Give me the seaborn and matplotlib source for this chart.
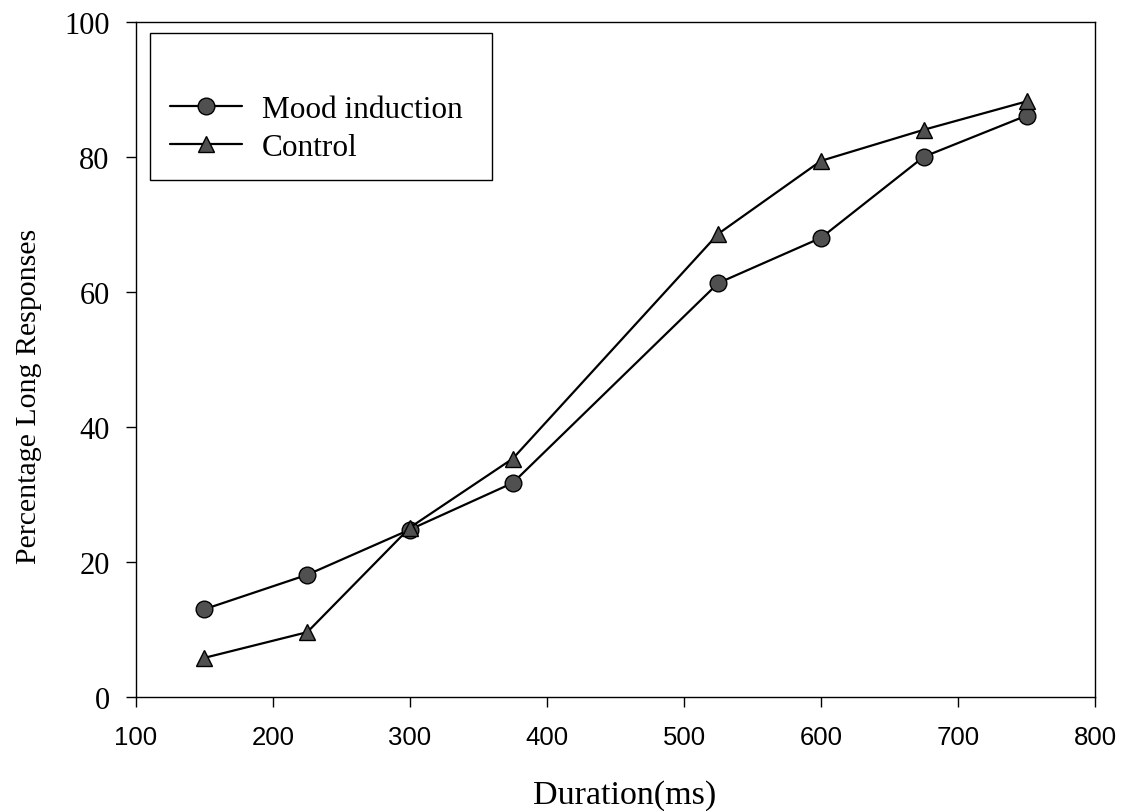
import pandas as pd
import matplotlib.pyplot as plt
import matplotlib.patches as mpatches
import seaborn as sns

# valores
duracion = [150, 225, 300, 375, 525, 600, 675, 750]
mood_induction = [13.0, 18.1, 24.8, 31.7, 61.3, 68.0, 80.0, 86.1]
control = [5.8, 9.6, 25.1, 35.3, 68.6, 79.4, 84.0, 88.2]
x_ticks = [100, 200, 300, 400, 500, 600, 700, 800]
y_ticks = [0, 20, 40, 60, 80, 100]

df_mood = pd.DataFrame({'Duration': duracion, 'Pct': mood_induction})
df_ctrl = pd.DataFrame({'Duration': duracion, 'Pct': control})

sns.set_style('ticks')
plt.rcParams['font.family'] = ['Liberation Serif', 'DejaVu Serif']

fig = plt.figure(figsize=(11.23, 8.12), dpi=100)
ax = fig.add_axes([0.1211, 0.1404, 0.854, 0.8316])

marker_kws = dict(color='black', linewidth=1.6, markersize=12,
                  markerfacecolor='#505050', markeredgecolor='black',
                  markeredgewidth=1.0)

sns.lineplot(data=df_mood, x='Duration', y='Pct', marker='o',
             label='Mood induction', ax=ax, **marker_kws)
sns.lineplot(data=df_ctrl, x='Duration', y='Pct', marker='^',
             label='Control', ax=ax, **dict(marker_kws, markersize=11))

ax.set_xlim(100, 800)
ax.set_ylim(0, 100)
ax.set_xticks(x_ticks)
ax.set_yticks(y_ticks)
ax.set_xticklabels([str(t) for t in x_ticks], family='Liberation Sans', fontsize=18.5)
ax.set_yticklabels([str(t) for t in y_ticks], fontsize=22)
ax.tick_params(axis='x', direction='out', length=7, width=1, pad=13, colors='black')
ax.tick_params(axis='y', direction='out', length=7, width=1, pad=12, colors='black')

ax.set_xlabel('Duration(ms)', fontsize=24.5, color='black')
ax.xaxis.set_label_coords(0.51, -0.122)
ax.set_ylabel('Percentage Long Responses', fontsize=21.5, color='black')
ax.yaxis.set_label_coords(-0.098, 0.446)

for s in ax.spines.values():
    s.set_visible(True)
    s.set_color('black')
    s.set_linewidth(1.0)

# leyenda sin marco y un rectangulo aparte (mas espacio arriba, como el original)
leg = ax.legend(loc='center left', bbox_to_anchor=(0.0194, 0.842), frameon=False,
                fontsize=22.5, borderpad=0, handlelength=2.3, handletextpad=0.64,
                labelspacing=0.3)
for t in leg.get_texts():
    t.set_color('black')
ax.add_patch(mpatches.Rectangle((0.0146, 0.7656), 0.3564, 0.2174,
                                transform=ax.transAxes, fill=False,
                                edgecolor='black', linewidth=1.0, zorder=5))

fig.savefig('out.png', dpi=100, facecolor='white')
